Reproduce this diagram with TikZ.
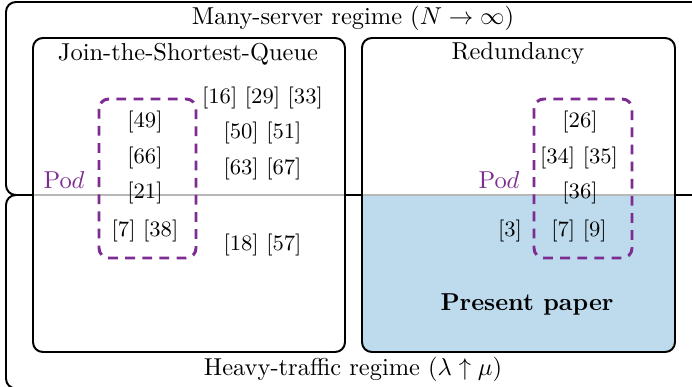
\documentclass[tikz,border=0pt]{standalone}
\definecolor{podpurple}{RGB}{125,45,145}
\definecolor{paperblue}{RGB}{190,219,237}
\begin{document}
\begin{tikzpicture}[x=0.409pt,y=-0.409pt,
  regime/.style={draw=black, line width=0.8pt, rounded corners=4pt},
  methodfill/.style={fill=white, rounded corners=4pt},
  methodline/.style={draw=black, line width=0.8pt, rounded corners=4pt},
  podbox/.style={draw=podpurple, line width=1.2pt, dash pattern=on 4pt off 3pt, rounded corners=4pt},
  divider/.style={draw=black!28, line width=0.8pt},
  cite/.style={inner sep=1pt, font=\small},
  podlabel/.style={text=podpurple, inner sep=1pt},
  heading/.style={inner sep=1pt}
]
\useasboundingbox (0,0) rectangle (692,387);
\clip (0,0) rectangle (692,387);
% regimes
\draw[regime] (6,2) rectangle (720,195);
\draw[regime] (6,195) rectangle (720,388.5);
% method boxes
\fill[methodfill] (33,38) rectangle (345,352);
\fill[methodfill] (362,38) rectangle (675,352);
\begin{scope}
  \clip[rounded corners=4pt] (362,38) rectangle (675,352);
  \fill[paperblue] (362,195) rectangle (675,352);
\end{scope}
\draw[divider] (33,195) -- (345,195);
\draw[divider] (362,195) -- (675,195);
\draw[methodline] (33,38) rectangle (345,352);
\draw[methodline] (362,38) rectangle (675,352);
% pod boxes
\draw[podbox] (99,99) rectangle (196,258);
\draw[podbox] (534,99) rectangle (632,258);
% headings
\node[heading] (many) at (353,18) {Many-server regime ($N \to \infty$)};
\node[heading] (heavy) at (353,369) {Heavy-traffic regime ($\lambda \uparrow \mu$)};
\node[heading] (jsq) at (188,54) {Join-the-Shortest-Queue};
\node[heading] (red) at (518,54) {Redundancy};
\node[heading] (present) at (527,304) {\textbf{Present paper}};
% pod labels
\node[podlabel] (podjsq) at (64,180) {Po$d$};
\node[podlabel] (podred) at (499,180) {Po$d$};
% JSQ citations
\node[cite] (c49) at (145,122) {[49]};
\node[cite] (c66) at (145,158) {[66]};
\node[cite] (c21) at (145,193) {[21]};
\node[cite] (c738) at (145,231) {[7] [38]};
\node[cite] (c162933) at (262.5,98) {[16] [29] [33]};
\node[cite] (c5051) at (262.5,133) {[50] [51]};
\node[cite] (c6367) at (262.5,169) {[63] [67]};
\node[cite] (c1857) at (262.5,245) {[18] [57]};
% Redundancy citations
\node[cite] (c26) at (580,122) {[26]};
\node[cite] (c3435) at (579,158) {[34] [35]};
\node[cite] (c36) at (580,193) {[36]};
\node[cite] (c79) at (579,231) {[7] [9]};
\node[cite] (c3) at (510,231) {[3]};
\end{tikzpicture}
\end{document}
